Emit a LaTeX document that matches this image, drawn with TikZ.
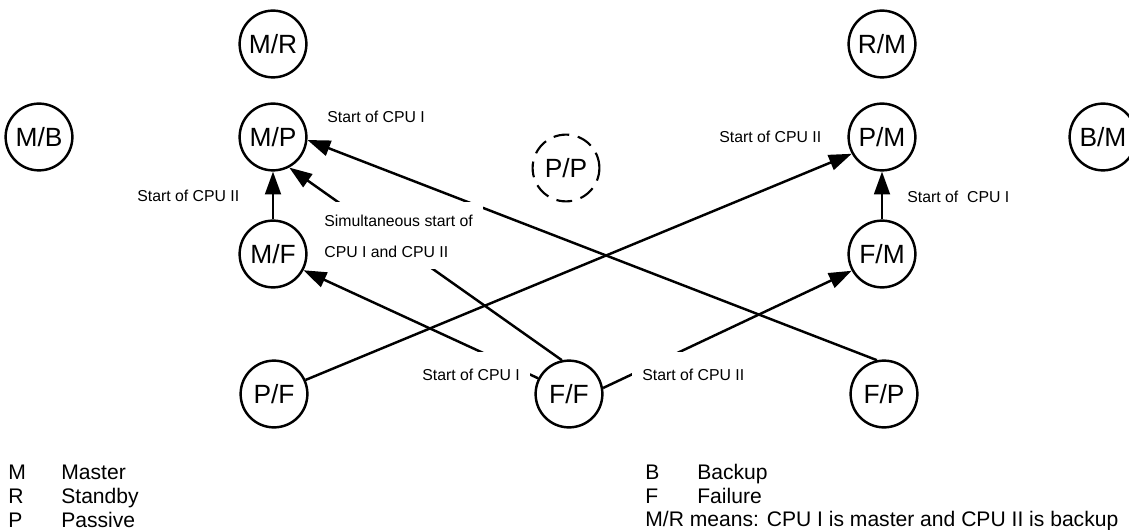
\documentclass[tikz,border=0pt]{standalone}
\usepackage{fontspec}
\setmainfont{Liberation Sans}
\usetikzlibrary{arrows.meta,positioning}

\begin{document}
\begin{tikzpicture}[
  x=0.02cm, y=-0.02cm,
  font=\fontsize{9}{11}\selectfont,
  >={Triangle[length=13pt, width=9pt]},
  state/.style={circle, draw=black, line width=1.4pt, minimum size=38pt,
                inner sep=0pt, font=\fontsize{15}{18}\selectfont},
  idle/.style={state, line width=1.2pt, dash pattern=on 9pt off 5pt},
  lbl/.style={fill=white, anchor=base west, xshift=-6pt, inner xsep=6pt,
              inner ysep=3pt, text height=13pt, text depth=3pt},
  mlbl/.style={fill=white, anchor=north west, xshift=-6pt, align=left,
               inner xsep=6pt, inner ysep=7pt},
  arr/.style={->, line width=1.4pt},
  key/.style={anchor=base west, inner sep=0pt, font=\fontsize{12}{14}\selectfont},
]
\useasboundingbox (0,0) rectangle (1129,530);

% States of the two CPUs
\node[state] (mr) at (273,44) {M/R};
\node[state] (rm) at (882,44) {R/M};
\node[state] (mb) at (39,137) {M/B};
\node[state] (mp) at (273,137) {M/P};
\node[idle]  (pp) at (566,168) {P/P};
\node[state] (pm) at (882,137) {P/M};
\node[state] (bm) at (1103,137) {B/M};
\node[state] (mf) at (273,254) {M/F};
\node[state] (fm) at (882,254) {F/M};
\node[state] (pf) at (274,394) {P/F};
\node[state] (ff) at (569,394) {F/F};
\node[state] (fp) at (884,394) {F/P};

% Transitions
\draw[arr] (mf) -- (mp);
\draw[arr] (fm) -- (pm);
\draw[arr] (pf.24) -- (pm.209);
\draw[arr] (fp.102) -- (mp.355);
\draw[arr] (ff.102) -- (mp.298);
\draw[arr] (ff.153) -- (mf.332);
\draw[arr] (ff.10) -- (fm.209);

% Labels
\node[lbl] (l1) at (327,123) {Start of CPU I};
\node[lbl] (l2) at (137,202) {Start of CPU II};
\node[lbl] (l3) at (719,143) {Start of CPU II};
\node[lbl] (l4) at (907,203) {Start of\ \ CPU I};
\node[mlbl] (l5) at (324,202) {Simultaneous start of\\[6.6pt]CPU I and CPU II};
\node[lbl] (l6) at (422,380) {Start of CPU I};
\node[lbl] (l7) at (642,380) {Start of CPU II};

% Key
\node[key] (kM) at (8,479) {M};
\node[key] (kMtxt) at (61,479) {Master};
\node[key] (kR) at (8,503) {R};
\node[key] (kRtxt) at (61,503) {Standby};
\node[key] (kP) at (8,527) {P};
\node[key] (kPtxt) at (61,527) {Passive};
\node[key] (kB) at (645,479) {B};
\node[key] (kBtxt) at (697,479) {Backup};
\node[key] (kF) at (645,503) {F};
\node[key] (kFtxt) at (697,503) {Failure};
\node[key] (kMR) at (645,526) {M/R means: CPU I is master and CPU II is backup};

\end{tikzpicture}
\end{document}
